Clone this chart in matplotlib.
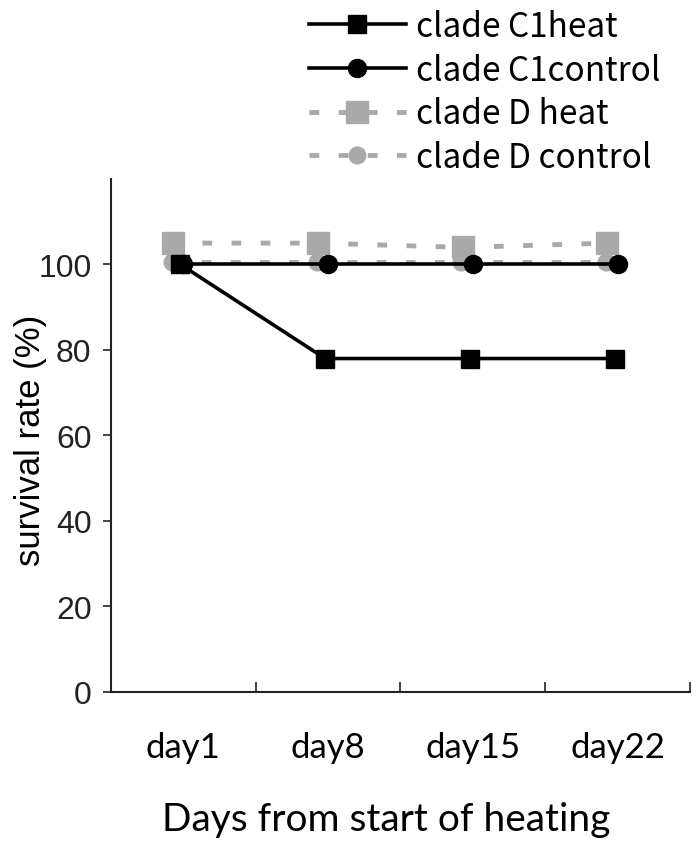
import matplotlib
matplotlib.use("Agg")
import matplotlib.pyplot as plt
import numpy as np

days = ["day1", "day8", "day15", "day22"]
c1_heat = [100, 78, 78, 78]
c1_control = [100, 100, 100, 100]
d_heat = [105, 105, 104, 105]
d_control = [100.5, 100.5, 100.5, 100.5]

gray = "#a9a9a9"

fig = plt.figure(figsize=(6.98, 8.53), dpi=100)
ax = fig.add_axes([0.159, 0.1876, 0.8295, 0.6014])

x = np.arange(len(days))

# gray series first so the black ones sit on top
ax.plot(x - 0.07, d_heat, color=gray, ls=(0, (2, 4)), lw=3.5,
        marker="s", ms=16, mec=gray, mfc=gray, label="clade D heat", zorder=2)
ax.plot(x - 0.08, d_control, color=gray, ls=(0, (2, 4)), lw=3.5,
        marker="o", ms=12, mec=gray, mfc=gray, label="clade D control", zorder=2)
ax.plot(x - 0.02, c1_heat, color="black", lw=2.6,
        marker="s", ms=13, label="clade C1heat", zorder=3)
ax.plot(x, c1_control, color="black", lw=2.6,
        marker="o", ms=13, label="clade C1control", zorder=4)

ax.set_xlim(-0.5, len(days) - 0.5)
ax.set_ylim(0, 120)

ax.spines["top"].set_visible(False)
ax.spines["right"].set_visible(False)
for s in ["left", "bottom"]:
    ax.spines[s].set_linewidth(1.5)
    ax.spines[s].set_color("#222222")

ax.set_yticks([0, 20, 40, 60, 80, 100])
ax.tick_params(axis="y", direction="out", length=6, width=1.2, pad=8,
               labelsize=23, colors="#222222")
for t in ax.get_yticklabels():
    t.set_family("Liberation Sans")

# category boundaries as ticks, labels in between
ax.set_xticks(np.append(x[1:] - 0.5, len(days) - 0.5))
ax.set_xticklabels([])
ax.tick_params(axis="x", which="major", direction="in", length=7, width=1.2,
               colors="#222222")
ax.set_xticks(x, minor=True)
ax.set_xticklabels(days, minor=True, family="Lato", fontsize=25)
ax.tick_params(axis="x", which="minor", length=0, pad=28)

ax.set_ylabel("survival rate (%)", family="Liberation Sans", fontsize=25)
ax.yaxis.set_label_coords(-0.11, 0.493)
ax.set_xlabel("Days from start of heating", family="Lato", fontsize=28)
ax.xaxis.set_label_coords(0.475, -0.212)

handles, labels = ax.get_legend_handles_labels()
order = [2, 3, 0, 1]
leg = ax.legend([handles[i] for i in order], [labels[i] for i in order],
                loc="upper left", bbox_to_anchor=(0.29, 1.39), frameon=False,
                handlelength=2.9, handletextpad=0.3, labelspacing=0.26,
                prop={"family": "Noto Sans CJK JP", "size": 24})

fig.savefig("out.png", dpi=100)
